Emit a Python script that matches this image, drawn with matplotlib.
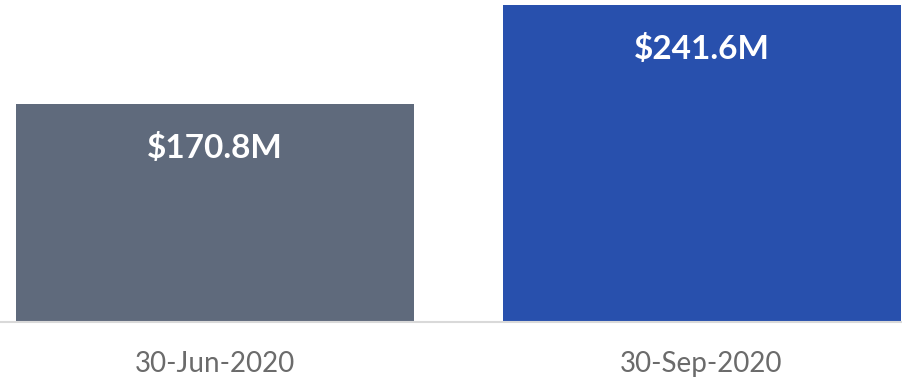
import matplotlib
matplotlib.use("Agg")
import matplotlib.pyplot as plt

# data
dates = ["30-Jun-2020", "30-Sep-2020"]
values = [170.8, 241.6]
labels = ["$170.8M", "$241.6M"]
colors = ["#5F6A7C", "#2850AD"]

plt.rcParams['font.family'] = ['Lato', 'DejaVu Sans']

fig = plt.figure(figsize=(9.02, 3.82), dpi=100)
ax = fig.add_axes([0, 1 - 322 / 382, 1, 322 / 382])

x = range(len(values))
bars = ax.bar(x, values, width=0.818, color=colors, bottom=0)

ax.set_xlim(-0.442, 1.412)
ax.set_ylim(14.9, 245.2)

# value labels inside bars
for b, lab in zip(bars, labels):
    ax.annotate(lab, (b.get_x() + b.get_width() / 2, b.get_height()),
                xytext=(0, -44), textcoords="offset pixels",
                ha="center", va="center", color="white",
                fontsize=24, fontweight="bold")

# date labels under the baseline
for i, d in enumerate(dates):
    ax.annotate(d, (i, 14.9), xytext=(0, -42), textcoords="offset pixels",
                ha="center", va="center", color="#6b6b6b", fontsize=20,
                annotation_clip=False)

for s in ["top", "left", "right"]:
    ax.spines[s].set_visible(False)
ax.spines["bottom"].set_color("#d9d9d9")
ax.spines["bottom"].set_linewidth(1.5)
ax.set_xticks([])
ax.set_yticks([])

fig.savefig("out.png", dpi=100)
